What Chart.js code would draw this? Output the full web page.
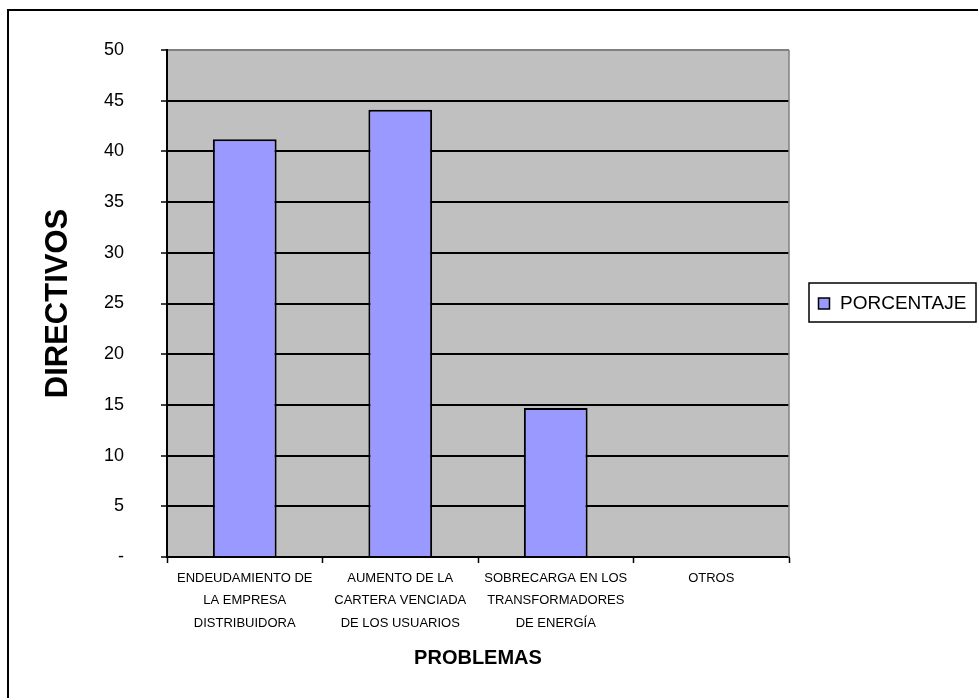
<!DOCTYPE html>
<html>
<head>
<meta charset="utf-8">
<script src="https://cdn.jsdelivr.net/npm/chart.js@4/dist/chart.umd.min.js"></script>
<style>
  html, body { margin: 0; padding: 0; background: #fff; }
  canvas { display: block; }
</style>
</head>
<body>
<canvas id="grafico" width="978" height="698"></canvas>
<script>
// Problemas señalados por los directivos (porcentaje)
const categorias = [
  ['ENDEUDAMIENTO DE', 'LA EMPRESA', 'DISTRIBUIDORA'],
  ['AUMENTO DE LA', 'CARTERA VENCIADA', 'DE LOS USUARIOS'],
  ['SOBRECARGA EN LOS', 'TRANSFORMADORES', 'DE ENERGÍA'],
  ['OTROS']
];
const porcentaje = [41.2, 44.1, 14.7, 0];
const nombreSerie = 'PORCENTAJE';
const ejeY = { min: 0, max: 50, paso: 5 };
const tituloY = 'DIRECTIVOS';
const tituloX = 'PROBLEMAS';

const FUENTE = "'Liberation Sans', Arial, sans-serif";

// Fondo gris del área de trazado y borde derecho
const fondoArea = {
  id: 'fondoArea',
  beforeDraw(chart) {
    const { ctx, chartArea: a } = chart;
    ctx.save();
    ctx.fillStyle = '#C0C0C0';
    ctx.fillRect(a.left, a.top, a.right - a.left, a.bottom - a.top);
    ctx.restore();
  },
  afterDraw(chart) {
    const { ctx, chartArea: a } = chart;
    ctx.save();
    ctx.strokeStyle = '#808080';
    ctx.lineWidth = 1.5;
    ctx.beginPath();
    ctx.moveTo(a.right, a.top);
    ctx.lineTo(a.right, a.bottom);
    ctx.stroke();
    ctx.restore();
  }
};

// Marco exterior del gráfico
const marco = {
  id: 'marco',
  afterDraw(chart) {
    const { ctx } = chart;
    ctx.save();
    ctx.strokeStyle = '#000';
    ctx.lineWidth = 2;
    ctx.strokeRect(8, 10, 2000, 2000);
    ctx.restore();
  }
};

// Leyenda en recuadro a la derecha
const leyenda = {
  id: 'leyenda',
  afterDraw(chart) {
    const { ctx } = chart;
    const ds = chart.data.datasets[0];
    const x = 809, y = 283, w = 167, h = 39;
    ctx.save();
    ctx.fillStyle = '#fff';
    ctx.fillRect(x, y, w, h);
    ctx.strokeStyle = '#000';
    ctx.lineWidth = 1.5;
    ctx.strokeRect(x, y, w, h);
    ctx.fillStyle = ds.backgroundColor;
    ctx.fillRect(818.5, 298, 11, 11);
    ctx.lineWidth = 1.5;
    ctx.strokeRect(818.5, 298, 11, 11);
    ctx.fillStyle = '#000';
    ctx.font = '19px ' + FUENTE;
    ctx.textBaseline = 'middle';
    ctx.textAlign = 'left';
    ctx.fillText(ds.label, 840, 304);
    ctx.restore();
  }
};

new Chart(document.getElementById('grafico'), {
  type: 'bar',
  data: {
    labels: categorias,
    datasets: [{
      label: nombreSerie,
      data: porcentaje,
      backgroundColor: '#9999FF',
      borderColor: '#000',
      borderWidth: 2,
      categoryPercentage: 0.82,
      barPercentage: 0.5
    }]
  },
  options: {
    responsive: false,
    devicePixelRatio: 1,
    animation: false,
    layout: { padding: { top: 50, right: 189, left: 0, bottom: 0 } },
    plugins: {
      legend: { display: false },
      tooltip: { enabled: false }
    },
    scales: {
      x: {
        offset: true,
        afterFit(s) { s.height = 141; },
        grid: {
          offset: true,
          drawOnChartArea: false,
          drawTicks: true,
          tickLength: 6,
          tickColor: '#000',
          tickWidth: 1.5
        },
        border: { color: '#000', width: 2 },
        ticks: {
          color: '#000',
          padding: 4,
          maxRotation: 0,
          autoSkip: false,
          font: { family: FUENTE, size: 13, lineHeight: 1.73 }
        },
        title: {
          display: true,
          text: tituloX,
          color: '#000',
          font: { family: FUENTE, size: 20, weight: 'bold', lineHeight: 1.2 },
          padding: { top: 0, bottom: 28 }
        }
      },
      y: {
        min: ejeY.min,
        max: ejeY.max,
        afterFit(s) { s.width = 167; },
        grid: {
          color: c => (c.tick && c.tick.value === ejeY.max) ? '#808080' : '#000',
          lineWidth: 2,
          tickLength: 6,
          tickColor: '#000',
          tickWidth: 1.5
        },
        border: { color: '#000', width: 2 },
        ticks: {
          stepSize: ejeY.paso,
          color: '#000',
          padding: 37,
          font: { family: FUENTE, size: 18 },
          callback: v => v === 0 ? '-' : v
        },
        title: {
          display: true,
          text: tituloY,
          color: '#000',
          font: { family: FUENTE, size: 31, weight: 'bold', lineHeight: 1.2 },
          padding: { top: 40, bottom: 0 }
        }
      }
    }
  },
  plugins: [fondoArea, marco, leyenda]
});
</script>
</body>
</html>
